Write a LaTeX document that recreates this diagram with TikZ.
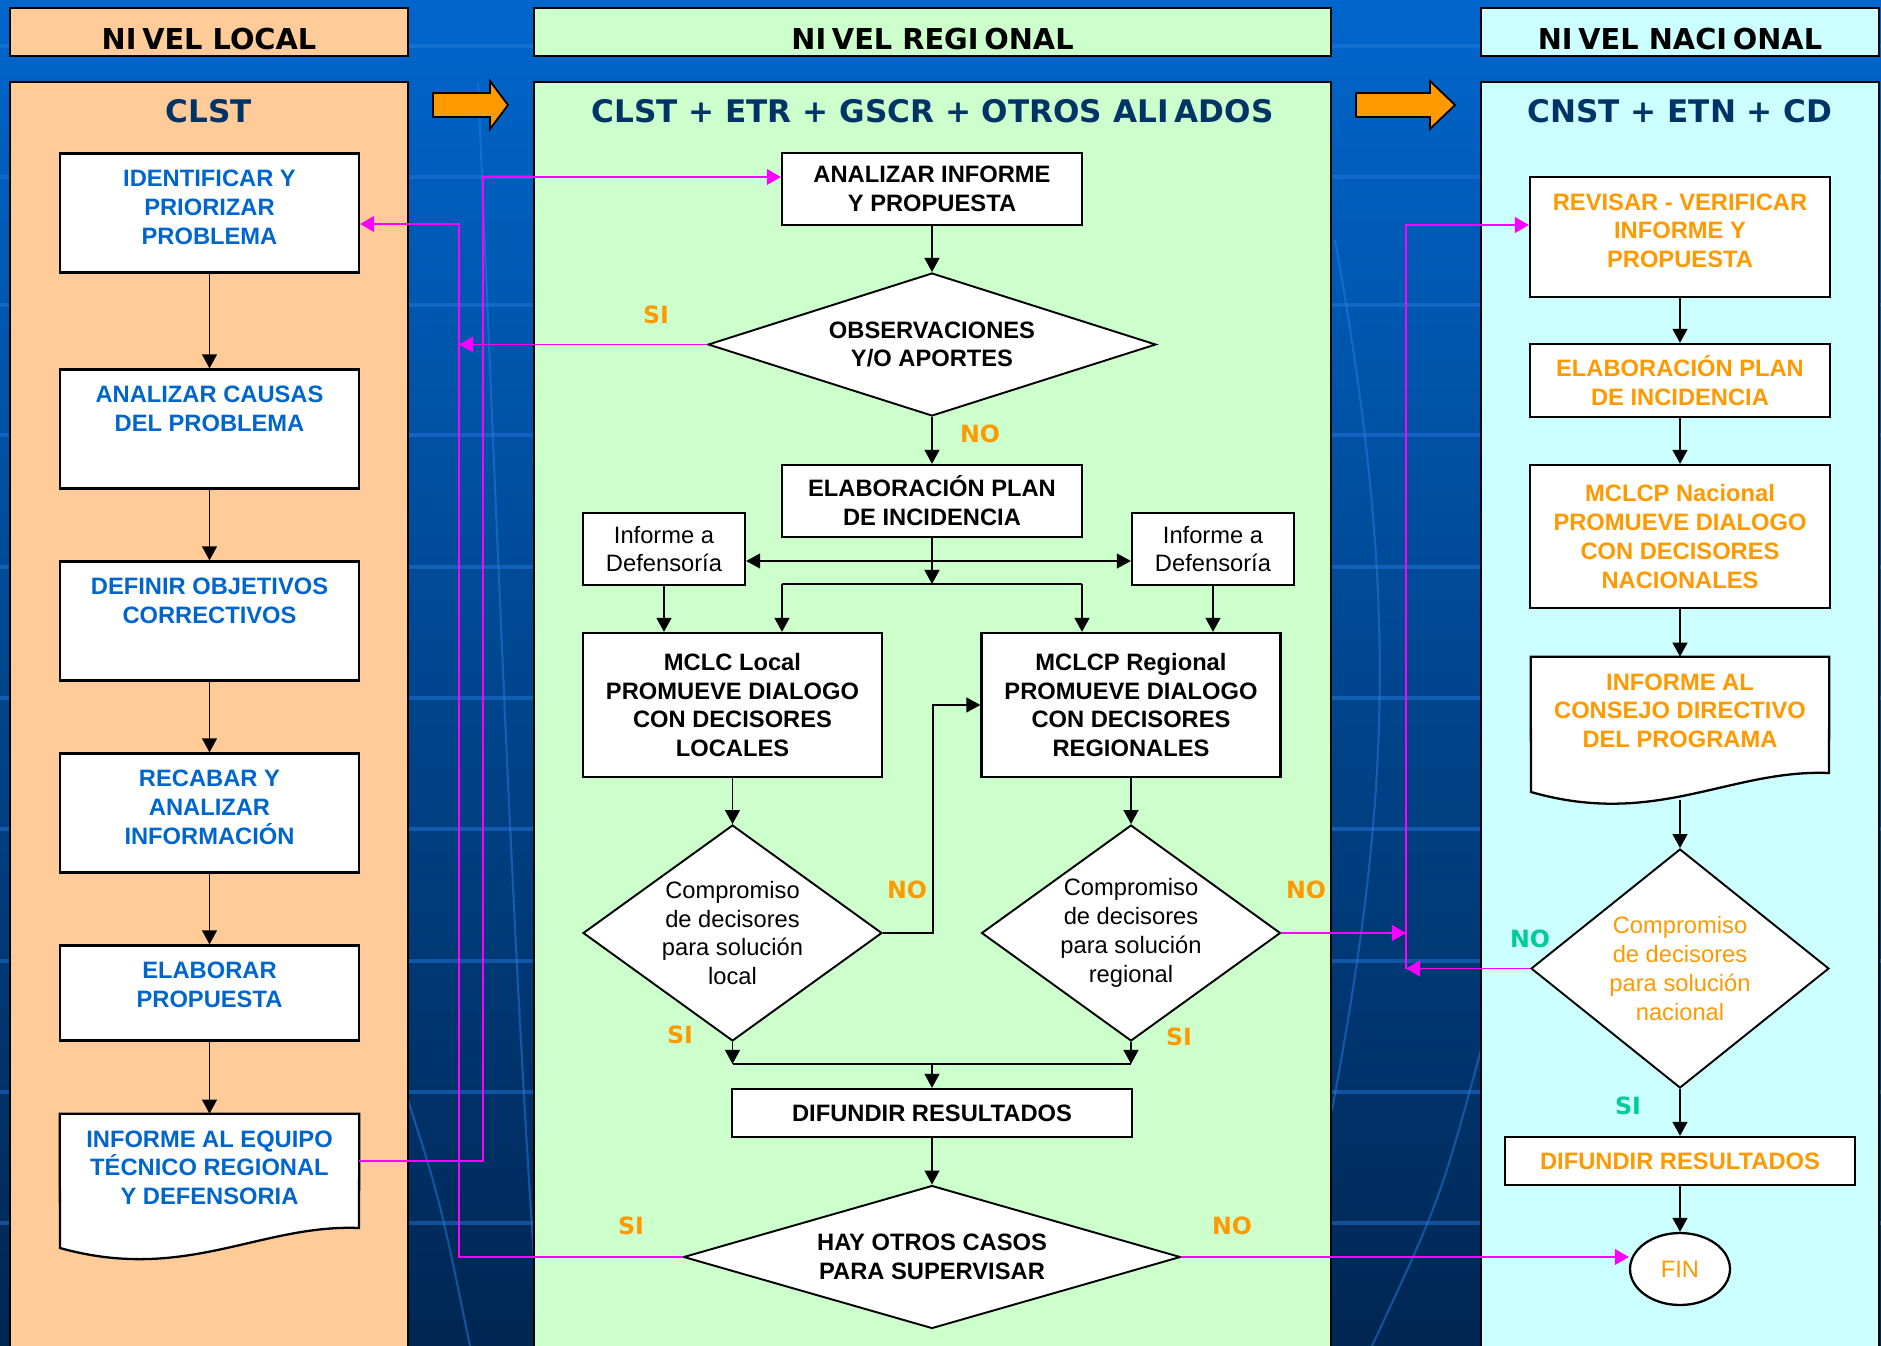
\documentclass[tikz,border=0pt]{standalone}
\usepackage{fontspec}
\setmainfont{Liberation Sans}
\newfontfamily\hdrfont{DejaVu Sans}
\usetikzlibrary{shapes.geometric,arrows.meta,backgrounds}

\definecolor{bgtop}{RGB}{0,102,204}
\definecolor{bgbot}{RGB}{0,38,82}
\definecolor{lanelocal}{RGB}{255,204,153}
\definecolor{lanereg}{RGB}{204,255,204}
\definecolor{lanenac}{RGB}{204,255,255}
\definecolor{txtblue}{RGB}{0,102,204}
\definecolor{navy}{RGB}{0,51,102}
\definecolor{orng}{RGB}{255,153,0}
\definecolor{tealno}{RGB}{0,204,153}
\definecolor{mgnt}{RGB}{255,0,255}
\definecolor{gridblue}{RGB}{40,125,225}

\newcommand{\bodysize}{\fontsize{13.5}{16.4}\selectfont}
\newcommand{\topbox}[3]{\parbox[c][#2][t]{#1}{\centering\rule{0pt}{18.8pt}#3}}

\begin{document}
\begin{tikzpicture}[x=0.02cm, y=-0.02cm,
    lane/.style={draw=black, line width=1.1pt},
    hdr/.style={draw=black, line width=1.3pt, inner sep=0pt, minimum height=0.96cm,
      text height=19.8pt, text depth=0pt, font=\hdrfont\bfseries\fontsize{16.4}{18}\selectfont},
    ttl/.style={text=navy, font=\hdrfont\bfseries\fontsize{17.7}{20}\selectfont},
    box/.style={draw=black, line width=1.3pt, fill=white, inner sep=0pt, align=center, font=\bfseries\bodysize},
    thinbox/.style={box, font=\bodysize},
    tbox/.style={draw=black, line width=1.3pt, fill=white, inner sep=0pt, font=\bfseries\bodysize},
    docnode/.style={inner sep=0pt, font=\bfseries\bodysize},
    docln/.style={draw=black, line width=1.3pt, fill=white},
    dec/.style={diamond, draw=black, line width=1.1pt, fill=white, inner sep=0pt, align=center, font=\bodysize},
    arr/.style={line width=0.9pt, -{Triangle[length=8pt,width=8.5pt]}},
    conn/.style={line width=0.9pt},
    mag/.style={draw=mgnt, line width=1pt, -{Triangle[length=8pt,width=9pt]}},
    lbl/.style={text=orng, font=\hdrfont\bfseries\fontsize{13.5}{15}\selectfont},
    gridln/.style={draw=gridblue, line width=2pt, opacity=0.45},
    deco/.style={draw=gridblue, line width=1.2pt, opacity=0.5},
  ]
\useasboundingbox (0,0) rectangle (1881,1346);

% fondo y carriles
\begin{scope}[on background layer]
  \shade[top color=bgtop, bottom color=bgbot] (0,0) rectangle (1881,1346);
  \foreach \y in {46,177,305,435,567,698,829,961,1092,1223}
    \draw[gridln] (0,\y) -- (1881,\y);
  \draw[deco] (478,82) .. controls (500,600) and (515,1000) .. (540,1346);
  \draw[deco] (408,1100) .. controls (440,1200) .. (470,1346);
  \draw[deco] (1335,240) .. controls (1400,600) and (1390,800) .. (1332,1110);
  \draw[deco] (1481,1050) .. controls (1440,1200) .. (1372,1346);
  \draw[lane, fill=lanelocal] (10,82) rectangle (408,1350);
  \draw[lane, fill=lanereg] (534,82) rectangle (1331,1350);
  \draw[lane, fill=lanenac] (1481,82) rectangle (1879,1350);
\end{scope}

\node[hdr, fill=lanelocal, minimum width=7.96cm] (hloc) at (209,32) {NI\kern.2em VEL LOCAL};
\node[hdr, fill=lanereg, minimum width=15.94cm] (hreg) at (932.5,32) {NI\kern.2em VEL REGI\kern.2em ONAL};
\node[hdr, fill=lanenac, minimum width=7.96cm] (hnac) at (1680,32) {NI\kern.2em VEL NACI\kern.2em ONAL};

\node[ttl] (tloc) at (209,111) {CLST};
\node[ttl] (treg) at (932.5,111) {CLST + ETR + GSCR + OTROS ALI\kern.2em ADOS};
\node[ttl] (tnac) at (1680,111) {CNST + ETN + CD};

\draw[fill=orng, line width=1pt] (433,93) -- (490,93) -- (490,81) -- (508,105) -- (490,129) -- (490,117) -- (433,117) -- cycle;
\draw[fill=orng, line width=1pt] (1356,93) -- (1430,93) -- (1430,81) -- (1455,105) -- (1430,129) -- (1430,117) -- (1356,117) -- cycle;

% nivel local
\node[tbox, text=txtblue] (ident) at (209.5,213) {\topbox{5.98cm}{2.38cm}{IDENTIFICAR Y\\PRIORIZAR\\PROBLEMA}};
\node[tbox, text=txtblue] (causas) at (209.5,429) {\topbox{5.98cm}{2.38cm}{ANALIZAR CAUSAS\\DEL PROBLEMA}};
\node[tbox, text=txtblue] (objet) at (209.5,621) {\topbox{5.98cm}{2.38cm}{DEFINIR OBJETIVOS\\CORRECTIVOS}};
\node[tbox, text=txtblue] (recab) at (209.5,813) {\topbox{5.98cm}{2.38cm}{RECABAR Y\\ANALIZAR\\INFORMACIÓN}};
\node[tbox, text=txtblue] (elab) at (209.5,993) {\topbox{5.98cm}{1.9cm}{ELABORAR\\PROPUESTA}};
\node[docnode, text=txtblue] (infeq) at (209.5,1161) {\topbox{5.98cm}{1.88cm}{INFORME AL EQUIPO\\TÉCNICO REGIONAL\\Y DEFENSORIA}};

% nivel regional
\node[box, minimum width=6cm, minimum height=1.44cm] (anl) at (932,189) {ANALIZAR INFORME\\Y PROPUESTA};
\node[dec, font=\bfseries\bodysize, aspect=3.13, minimum width=8.96cm, minimum height=2.86cm] (obs) at (932,344.5) {OBSERVACIONES\\Y/O APORTES};
\node[box, minimum width=6cm, minimum height=1.44cm] (elabr) at (932,501) {ELABORACIÓN PLAN\\DE INCIDENCIA};
\node[thinbox, minimum width=3.24cm, minimum height=1.44cm] (defl) at (664,549) {Informe a\\Defensoría};
\node[thinbox, minimum width=3.24cm, minimum height=1.44cm] (defr) at (1213,549) {Informe a\\Defensoría};
\node[box, minimum width=5.98cm, minimum height=2.88cm] (mclc) at (732.5,705) {MCLC Local\\PROMUEVE DIALOGO\\CON DECISORES\\LOCALES};
\node[box, minimum width=5.98cm, minimum height=2.88cm] (mclcp) at (1131,705) {MCLCP Regional\\PROMUEVE DIALOGO\\CON DECISORES\\REGIONALES};
\node[dec, aspect=1.38, minimum width=5.98cm, minimum height=4.32cm] (dloc) at (732.5,933) {Compromiso\\de decisores\\para solución\\local};
\node[dec, aspect=1.38, minimum width=5.98cm, minimum height=4.32cm] (dreg) at (1131,933) {Compromiso\\de decisores\\para solución\\regional};
\node[box, minimum width=8cm, minimum height=0.96cm] (difr) at (932,1113) {DIFUNDIR RESULTADOS};
\node[dec, font=\bfseries\bodysize, aspect=3.48, minimum width=9.94cm, minimum height=2.86cm] (hay) at (932,1257) {HAY OTROS CASOS\\PARA SUPERVISAR};

% nivel nacional
\node[tbox, text=orng] (rev) at (1680,237) {\topbox{6cm}{2.4cm}{REVISAR - VERIFICAR\\INFORME Y\\PROPUESTA}};
\node[box, text=orng, minimum width=6cm, minimum height=1.46cm] (elabn) at (1680,380.5) {ELABORACIÓN PLAN\\DE INCIDENCIA};
\node[box, text=orng, minimum width=6cm, minimum height=2.86cm] (mclcn) at (1680,536.5) {MCLCP Nacional\\PROMUEVE DIALOGO\\CON DECISORES\\NACIONALES};
\node[docnode, text=orng] (consejo) at (1680,728.5) {\topbox{5.96cm}{2.86cm}{INFORME AL\\CONSEJO DIRECTIVO\\DEL PROGRAMA}};
\node[dec, text=orng, aspect=1.25, minimum width=5.96cm, minimum height=4.78cm] (dnac) at (1680,968.5) {Compromiso\\de decisores\\para solución\\nacional};
\node[box, text=orng, minimum width=7cm, minimum height=0.96cm] (difn) at (1680,1161) {DIFUNDIR RESULTADOS};
\node[ellipse, draw=black, line width=1.3pt, fill=white, inner sep=0pt, minimum width=2cm, minimum height=1.44cm, text=orng, font=\bodysize] (fin) at (1680,1269) {FIN};

% documentos
\begin{scope}[on background layer]
  \draw[docln] (infeq.north west) -- (infeq.north east) -- (359,1228) .. controls (260,1224) and (185,1283) .. (60,1248) -- cycle;
  \draw[docln] (consejo.north west) -- (consejo.north east) -- (1829,773) .. controls (1730,769) and (1656,828) .. (1531,792) -- cycle;
\end{scope}

% flechas
\foreach \a/\b in {ident/causas, causas/objet, objet/recab, recab/elab, elab/infeq,
    anl/obs, obs/elabr, mclc/dloc, mclcp/dreg, difr/hay,
    rev/elabn, elabn/mclcn, mclcn/consejo, consejo/dnac, dnac/difn, difn/fin}
  \draw[arr] (\a) -- (\b);

\coordinate (bmid) at (932,584);
\coordinate (bleft) at (782,584);
\coordinate (bright) at (1082,584);
\coordinate (dy) at (0,561);
\draw[arr] (elabr) -- (bmid);
\draw[conn] (bleft) -- (bright);
\draw[arr] (bleft) -- (bleft |- mclc.north);
\draw[arr] (bright) -- (bright |- mclcp.north);
\draw[arr] (defl) -- (defl |- mclc.north);
\draw[arr] (defr) -- (defr |- mclcp.north);
\draw[line width=0.9pt, {Triangle[length=8pt,width=8.5pt]}-{Triangle[length=8pt,width=8.5pt]}] (defl.east |- dy) -- (defr.west |- dy);
\draw[arr] (dloc.east) -- ++(50,0) |- (mclcp.west);

\coordinate (bbot) at (932,1064);
\draw[arr] (dloc.south) -- (dloc.south |- bbot);
\draw[arr] (dreg.south) -- (dreg.south |- bbot);
\draw[conn] (dloc.south |- bbot) -- (dreg.south |- bbot);
\draw[arr] (bbot) -- (difr);

% retornos
\coordinate (ma) at (483,177);
\coordinate (mb) at (459,224);
\coordinate (mc) at (1406,225);
\draw[mag] (infeq.east) -| (ma) -- (anl.west |- ma);
\draw[mag] (hay.west) -| (mb) -- (ident.east |- mb);
\draw[mag] (obs.west) -- (obs.west -| mb);
\draw[mag] (dreg.east) -- (dreg.east -| mc);
\draw[mag] (dnac.west) -- (dnac.west -| mc);
\draw[mag] (dnac.west -| mc) -- (mc) -- (rev.west |- mc);
\draw[mag] (hay.east) -- (fin.west |- hay.east);

% etiquetas
\node[lbl] (siobs) at (656,315) {SI};
\node[lbl] (noobs) at (980,434) {NO};
\node[lbl] (noloc) at (907,890) {NO};
\node[lbl] (noreg) at (1306,890) {NO};
\node[lbl] (siloc) at (680,1035) {SI};
\node[lbl] (sireg) at (1179,1037) {SI};
\node[lbl] (sihay) at (631,1226) {SI};
\node[lbl] (nohay) at (1232,1226) {NO};
\node[lbl, text=tealno] (nonac) at (1530,939) {NO};
\node[lbl, text=tealno] (sinac) at (1628,1106) {SI};
\end{tikzpicture}
\end{document}
